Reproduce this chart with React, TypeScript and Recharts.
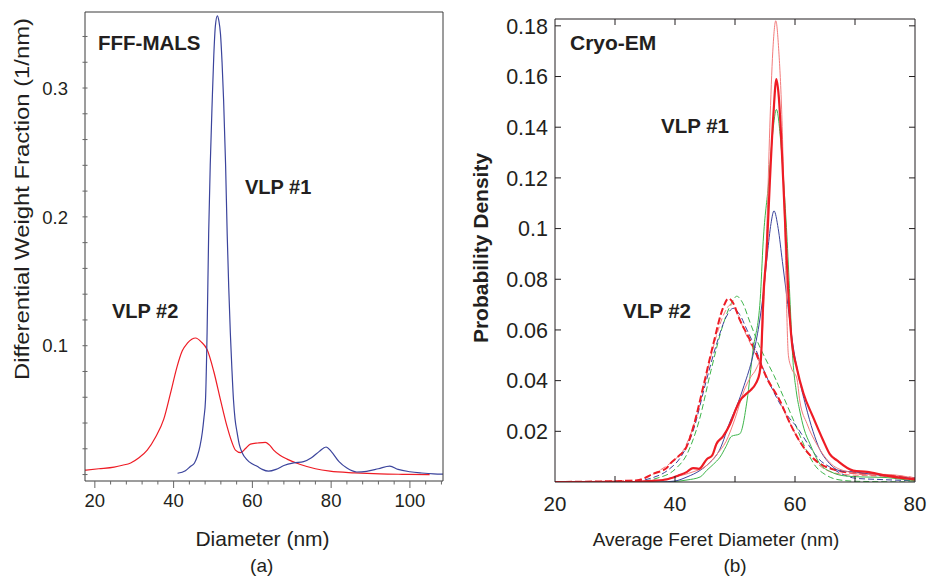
import { LineChart, Line, XAxis, YAxis } from 'recharts';

const FONT = '"Liberation Sans", Arial, Helvetica, sans-serif';
const INK = '#231f20';
const FRAME = '#3a3a3a';
const BLUE = '#3b449c';
const RED = '#ee1c25';
const RED_LIGHT = '#f37b7b';
const GREEN = '#3db54a';

// ---- (a) FFF-MALS : differential weight fraction vs diameter ----
const malsVlp1X = [41, 43, 44.3, 45.3, 46, 46.7, 47.3, 47.7, 48.1, 48.5, 48.9, 49.3, 49.8, 50.2, 50.6, 51.1, 51.5, 51.9, 52.3, 52.7, 53.2, 53.6, 54, 54.4, 54.8, 55.2, 55.6, 56.1, 56.7, 57.4, 58.6, 59.8, 61.2, 62.5, 64.1, 66, 68, 70.5, 73, 75, 77, 78.7, 80, 82, 84, 86.5, 89, 92, 94.9, 97, 100, 103, 106, 108.4];
const malsVlp1Y = [0.001, 0.003, 0.0064, 0.009, 0.014, 0.022, 0.033, 0.044, 0.058, 0.11, 0.187, 0.24, 0.29, 0.325, 0.348, 0.356, 0.352, 0.342, 0.32, 0.29, 0.24, 0.187, 0.145, 0.11, 0.082, 0.058, 0.043, 0.033, 0.023, 0.017, 0.0116, 0.0085, 0.0064, 0.004, 0.0026, 0.004, 0.007, 0.009, 0.010, 0.013, 0.018, 0.0214, 0.018, 0.010, 0.005, 0.002, 0.0025, 0.0045, 0.0065, 0.004, 0.0022, 0.0012, 0.0005, 0.0003];

const malsVlp2X = [17.5, 21, 24.9, 27, 29.1, 31.2, 33.3, 35.4, 37.5, 39.2, 40.9, 42.2, 43.5, 44.6, 45.6, 47, 48.5, 50.2, 51.9, 53.6, 54.7, 55.7, 57, 58.2, 59.5, 61.4, 63.3, 64.3, 65.4, 67, 68.8, 72.2, 76, 79.7, 86, 92.4, 98, 105];
const malsVlp2Y = [0.0034, 0.0045, 0.0058, 0.0072, 0.009, 0.013, 0.019, 0.029, 0.043, 0.063, 0.084, 0.096, 0.102, 0.105, 0.106, 0.103, 0.097, 0.08, 0.058, 0.037, 0.026, 0.019, 0.017, 0.02, 0.0236, 0.0245, 0.025, 0.023, 0.019, 0.015, 0.012, 0.0078, 0.0045, 0.0026, 0.0013, 0.0005, 0.0002, 0];

const malsXDomain = [17.5, 108.4];
const malsYDomain = [-0.005, 0.359];
const malsXTicks = Array.from({ length: 23 }, (_, i) => 20 + i * 4);
const malsYTicks = Array.from({ length: 18 }, (_, i) => Math.round(i * 2) / 100);
const malsYLabels = [0.1, 0.2, 0.3];

// ---- (b) Cryo-EM : probability density vs average Feret diameter ----
const emVlp1RedX = [20, 33, 36, 38.6, 40.5, 42, 43, 44, 45.3, 46.2, 46.9, 48, 49.2, 50.2, 50.8, 52, 52.5, 53.5, 54.1, 54.4, 54.7, 55.3, 55.8, 56.4, 56.9, 57.3, 57.8, 58.3, 58.9, 59.4, 60.3, 61.4, 63, 64.7, 65.8, 67, 69.7, 72, 75, 78, 80];
const emVlp1RedY = [0, 0, 0.0004, 0.001, 0.0025, 0.004, 0.0055, 0.0052, 0.009, 0.0105, 0.015, 0.018, 0.023, 0.029, 0.032, 0.035, 0.036, 0.039, 0.043, 0.052, 0.072, 0.092, 0.118, 0.145, 0.159, 0.152, 0.131, 0.105, 0.074, 0.057, 0.045, 0.035, 0.0257, 0.0164, 0.011, 0.0085, 0.0045, 0.004, 0.0026, 0.0015, 0.001];

const emVlp1RedThinX = [20, 34, 36, 40, 43, 45, 47, 48.5, 50, 51.5, 52.5, 53.6, 54.3, 54.8, 55.3, 55.8, 56.3, 56.8, 57.3, 57.8, 58.3, 58.9, 59.4, 60.3, 60.8, 62, 63.6, 66.1, 68.9, 72, 75, 80];
const emVlp1RedThinY = [0, 0, 0.0003, 0.002, 0.004, 0.006, 0.011, 0.016, 0.025, 0.036, 0.041, 0.045, 0.05, 0.07, 0.1, 0.14, 0.17, 0.182, 0.17, 0.145, 0.1, 0.05, 0.045, 0.041, 0.032, 0.023, 0.015, 0.007, 0.004, 0.003, 0.003, 0.0015];

const emVlp1GreenX = [20, 38, 42, 44.2, 45.3, 46.4, 47.5, 48.5, 49.4, 50.8, 52, 53, 54.2, 54.7, 55.6, 56.3, 56.9, 57.6, 58.2, 58.7, 59.2, 59.6, 60.2, 60.8, 61.5, 62.5, 64.2, 66, 68, 71, 75, 78, 80];
const emVlp1GreenY = [0, 0, 0.0008, 0.002, 0.0046, 0.007, 0.0098, 0.014, 0.018, 0.019, 0.032, 0.052, 0.072, 0.095, 0.118, 0.138, 0.147, 0.135, 0.115, 0.095, 0.07, 0.05, 0.036, 0.028, 0.021, 0.015, 0.007, 0.004, 0.0025, 0.002, 0.0018, 0.001, 0.0005];

const emVlp1BlueX = [20, 37.5, 40, 42, 44.2, 45.5, 47.5, 49.2, 50.3, 51.5, 53, 54, 54.7, 55.4, 56, 56.5, 57.2, 57.9, 58.8, 59.6, 60.5, 61.8, 63, 64.1, 65.5, 67.4, 70.2, 73, 76, 80];
const emVlp1BlueY = [0, 0, 0.0004, 0.002, 0.0046, 0.007, 0.013, 0.024, 0.03, 0.038, 0.05, 0.062, 0.074, 0.09, 0.102, 0.107, 0.1, 0.087, 0.07, 0.055, 0.043, 0.03, 0.02, 0.013, 0.008, 0.0045, 0.0039, 0.003, 0.0022, 0.0015];

const emVlp2RedX = [20, 33.6, 36.4, 38.6, 39.2, 40.5, 41.9, 43.05, 44.7, 46.4, 48.05, 48.9, 49.6, 50.8, 52.5, 54.2, 55.3, 57.5, 59.2, 61.4, 64.2, 67, 70, 73, 76, 80];
const emVlp2RedY = [0, 0.0006, 0.0033, 0.0055, 0.0072, 0.01, 0.0138, 0.0217, 0.0375, 0.0546, 0.069, 0.0724, 0.071, 0.064, 0.056, 0.047, 0.041, 0.032, 0.023, 0.0138, 0.0072, 0.0046, 0.0035, 0.003, 0.0025, 0.0015];

const emVlp2RedThinX = [20, 34, 37, 39.5, 41.5, 43.2, 45, 46.7, 48.3, 49.3, 50.5, 51.5, 52.5, 53.5, 55, 57, 59, 61, 63, 65, 68, 72, 76, 80];
const emVlp2RedThinY = [0, 0.0008, 0.004, 0.008, 0.013, 0.023, 0.04, 0.056, 0.067, 0.07, 0.066, 0.06, 0.055, 0.05, 0.043, 0.034, 0.024, 0.015, 0.009, 0.005, 0.003, 0.0025, 0.002, 0.001];

const emVlp2BlueX = [20, 32, 36, 39, 41, 43, 45, 47, 48.5, 49.7, 50.8, 52, 53, 55, 57, 58.5, 60.3, 62.5, 64, 65.8, 68, 70, 74, 80];
const emVlp2BlueY = [0, 0, 0.0015, 0.005, 0.01, 0.02, 0.038, 0.055, 0.065, 0.0685, 0.066, 0.06, 0.055, 0.043, 0.033, 0.027, 0.0217, 0.0138, 0.009, 0.0059, 0.003, 0.0015, 0.001, 0.0005];

const emVlp2GreenX = [20, 33, 37, 40, 42, 44, 46, 48, 49.5, 50.3, 51.2, 52.5, 54, 55, 56.5, 58, 60, 62, 63.5, 65, 67, 70, 80];
const emVlp2GreenY = [0, 0, 0.0015, 0.005, 0.011, 0.024, 0.044, 0.062, 0.071, 0.0733, 0.071, 0.063, 0.054, 0.049, 0.042, 0.034, 0.023, 0.012, 0.006, 0.003, 0.001, 0.0003, 0];

const emXDomain = [20, 80];
const emYDomain = [0, 0.1827];
const emXTicks = [20, 30, 40, 50, 60, 70, 80];
const emXLabels = [20, 40, 60, 80];
const emYTicks = [0.02, 0.04, 0.06, 0.08, 0.1, 0.12, 0.14, 0.16, 0.18];

const pts = (xs: number[], ys: number[]) => xs.map((x, i) => ({ x, y: ys[i] }));

const malsVlp1 = pts(malsVlp1X, malsVlp1Y);
const malsVlp2 = pts(malsVlp2X, malsVlp2Y);

const emSeries = [
  { key: 'v2g', data: pts(emVlp2GreenX, emVlp2GreenY), color: GREEN, width: 1, dash: '6 3' },
  { key: 'v2b', data: pts(emVlp2BlueX, emVlp2BlueY), color: BLUE, width: 1, dash: '6 3' },
  { key: 'v2rt', data: pts(emVlp2RedThinX, emVlp2RedThinY), color: RED_LIGHT, width: 1, dash: '6 3' },
  { key: 'v2r', data: pts(emVlp2RedX, emVlp2RedY), color: RED, width: 2, dash: '7 3' },
  { key: 'v1g', data: pts(emVlp1GreenX, emVlp1GreenY), color: GREEN, width: 1, dash: undefined },
  { key: 'v1b', data: pts(emVlp1BlueX, emVlp1BlueY), color: BLUE, width: 1, dash: undefined },
  { key: 'v1rt', data: pts(emVlp1RedThinX, emVlp1RedThinY), color: RED_LIGHT, width: 1, dash: undefined },
  { key: 'v1r', data: pts(emVlp1RedX, emVlp1RedY), color: RED, width: 2.2, dash: undefined },
];

// eslint-disable-next-line @typescript-eslint/no-explicit-any
function MalsXTick({ x, y, payload }: any) {
  const v = payload.value as number;
  const major = v % 20 === 0;
  return (
    <g>
      <line x1={x} y1={y} x2={x} y2={y + (major ? 7 : 3.5)} stroke="#666" />
      {major && (
        <text x={x} y={y + 25.5} textAnchor="middle" fill={INK} fontSize={18.5} fontFamily={FONT}>
          {v}
        </text>
      )}
    </g>
  );
}

// eslint-disable-next-line @typescript-eslint/no-explicit-any
function MalsYTick({ x, y, payload }: any) {
  const v = payload.value as number;
  const label = malsYLabels.some((l) => Math.abs(l - v) < 1e-6);
  return (
    <g>
      <line x1={x - 2.5} y1={y} x2={x + 2.5} y2={y} stroke="#666" />
      {label && (
        <text x={x - 17} y={y + 6.7} textAnchor="end" fill={INK} fontSize={18.5} fontFamily={FONT}>
          {v}
        </text>
      )}
    </g>
  );
}

// eslint-disable-next-line @typescript-eslint/no-explicit-any
function EmXTick({ x, y, payload, side }: any) {
  const v = payload.value as number;
  const dir = side === 'top' ? 1 : -1;
  const edge = v === emXDomain[0] || v === emXDomain[1];
  return (
    <g>
      {!edge && <line x1={x} y1={y} x2={x} y2={y + dir * 6} stroke={INK} />}
      {side === 'bottom' && emXLabels.includes(v) && (
        <text x={x} y={y + 28.5} textAnchor="middle" fill={INK} fontSize={20.5} fontFamily={FONT}>
          {v}
        </text>
      )}
    </g>
  );
}

// eslint-disable-next-line @typescript-eslint/no-explicit-any
function EmYTick({ x, y, payload, side }: any) {
  const v = payload.value as number;
  const dir = side === 'left' ? 1 : -1;
  return (
    <g>
      <line x1={x} y1={y} x2={x + dir * 6} y2={y} stroke={INK} />
      {side === 'left' && (
        <text x={x - 7} y={y + 7.7} textAnchor="end" fill={INK} fontSize={21.5} fontFamily={FONT}>
          {Number(v.toFixed(2)).toString()}
        </text>
      )}
    </g>
  );
}

const bold = { fontFamily: FONT, fontWeight: 700, fill: INK } as const;
const plain = { fontFamily: FONT, fill: INK } as const;

export default function App() {
  return (
    <div style={{ position: 'absolute', left: 0, top: 0, width: 930, height: 580, background: '#fff' }}>
      <div style={{ position: 'absolute', left: 0, top: 0 }}>
        <LineChart width={470} height={580} margin={{ top: 11, right: 26, bottom: 98, left: 84 }}>
          <XAxis
            dataKey="x"
            type="number"
            domain={malsXDomain}
            allowDataOverflow
            ticks={malsXTicks}
            interval={0}
            height={1}
            tickSize={0}
            tickMargin={0}
            tick={(p) => <MalsXTick {...p} />}
            axisLine={{ stroke: FRAME }}
          />
          <XAxis
            xAxisId="top"
            orientation="top"
            dataKey="x"
            type="number"
            domain={malsXDomain}
            allowDataOverflow
            height={1}
            tick={false}
            tickLine={false}
            axisLine={{ stroke: FRAME }}
          />
          <YAxis
            type="number"
            domain={malsYDomain}
            allowDataOverflow
            ticks={malsYTicks}
            interval={0}
            width={1}
            tickSize={0}
            tickMargin={0}
            tick={(p) => <MalsYTick {...p} />}
            axisLine={{ stroke: FRAME }}
          />
          <YAxis
            yAxisId="right"
            orientation="right"
            type="number"
            domain={malsYDomain}
            allowDataOverflow
            width={1}
            tick={false}
            tickLine={false}
            axisLine={{ stroke: FRAME }}
          />
          <Line data={malsVlp2} dataKey="y" type="monotone" stroke={RED} strokeWidth={1.2} dot={false} activeDot={false} isAnimationActive={false} />
          <Line data={malsVlp1} dataKey="y" type="monotone" stroke={BLUE} strokeWidth={1.2} dot={false} activeDot={false} isAnimationActive={false} />
        </LineChart>
      </div>

      <div style={{ position: 'absolute', left: 470, top: 0 }}>
        <LineChart width={460} height={580} margin={{ top: 18, right: 14, bottom: 97, left: 84 }}>
          <XAxis
            dataKey="x"
            type="number"
            domain={emXDomain}
            allowDataOverflow
            ticks={emXTicks}
            interval={0}
            height={1}
            tickSize={0}
            tickMargin={0}
            tick={(p) => <EmXTick {...p} side="bottom" />}
            axisLine={{ stroke: INK }}
          />
          <XAxis
            xAxisId="top"
            orientation="top"
            dataKey="x"
            type="number"
            domain={emXDomain}
            allowDataOverflow
            ticks={emXTicks}
            interval={0}
            height={1}
            tickSize={0}
            tickMargin={0}
            tick={(p) => <EmXTick {...p} side="top" />}
            axisLine={{ stroke: INK }}
          />
          <YAxis
            type="number"
            domain={emYDomain}
            allowDataOverflow
            ticks={emYTicks}
            interval={0}
            width={1}
            tickSize={0}
            tickMargin={0}
            tick={(p) => <EmYTick {...p} side="left" />}
            axisLine={{ stroke: INK }}
          />
          <YAxis
            yAxisId="right"
            orientation="right"
            type="number"
            domain={emYDomain}
            allowDataOverflow
            ticks={emYTicks}
            interval={0}
            width={1}
            tickSize={0}
            tickMargin={0}
            tick={(p) => <EmYTick {...p} side="right" />}
            axisLine={{ stroke: INK }}
          />
          {emSeries.map((s) => (
            <Line
              key={s.key}
              data={s.data}
              dataKey="y"
              type="monotone"
              stroke={s.color}
              strokeWidth={s.width}
              strokeDasharray={s.dash}
              dot={false}
              activeDot={false}
              isAnimationActive={false}
            />
          ))}
        </LineChart>
      </div>

      <svg width={930} height={580} style={{ position: 'absolute', left: 0, top: 0, pointerEvents: 'none' }}>
        <text x={98} y={50} fontSize={20.5} {...bold}>FFF-MALS</text>
        <text x={245} y={194} fontSize={20} {...bold}>VLP #1</text>
        <text x={112} y={318} fontSize={20} {...bold}>VLP #2</text>
        <text
          transform="translate(29,199) rotate(-90)"
          textAnchor="middle"
          fontSize={21}
          textLength={362}
          lengthAdjust="spacingAndGlyphs"
          {...plain}
        >
          Differential Weight Fraction (1/nm)
        </text>
        <text x={262.5} y={546} textAnchor="middle" fontSize={21} {...plain}>Diameter (nm)</text>
        <text x={261.7} y={572} textAnchor="middle" fontSize={19} {...plain}>(a)</text>

        <text x={570} y={50} fontSize={21} {...bold}>Cryo-EM</text>
        <text x={661} y={133} fontSize={20.5} {...bold}>VLP #1</text>
        <text x={623} y={318} fontSize={20.5} {...bold}>VLP #2</text>
        <text transform="translate(488,248) rotate(-90)" textAnchor="middle" fontSize={21} {...bold}>
          Probability Density
        </text>
        <text x={716} y={546} textAnchor="middle" fontSize={19} {...plain}>Average Feret Diameter (nm)</text>
        <text x={735} y={572} textAnchor="middle" fontSize={19} {...plain}>(b)</text>
      </svg>
    </div>
  );
}
